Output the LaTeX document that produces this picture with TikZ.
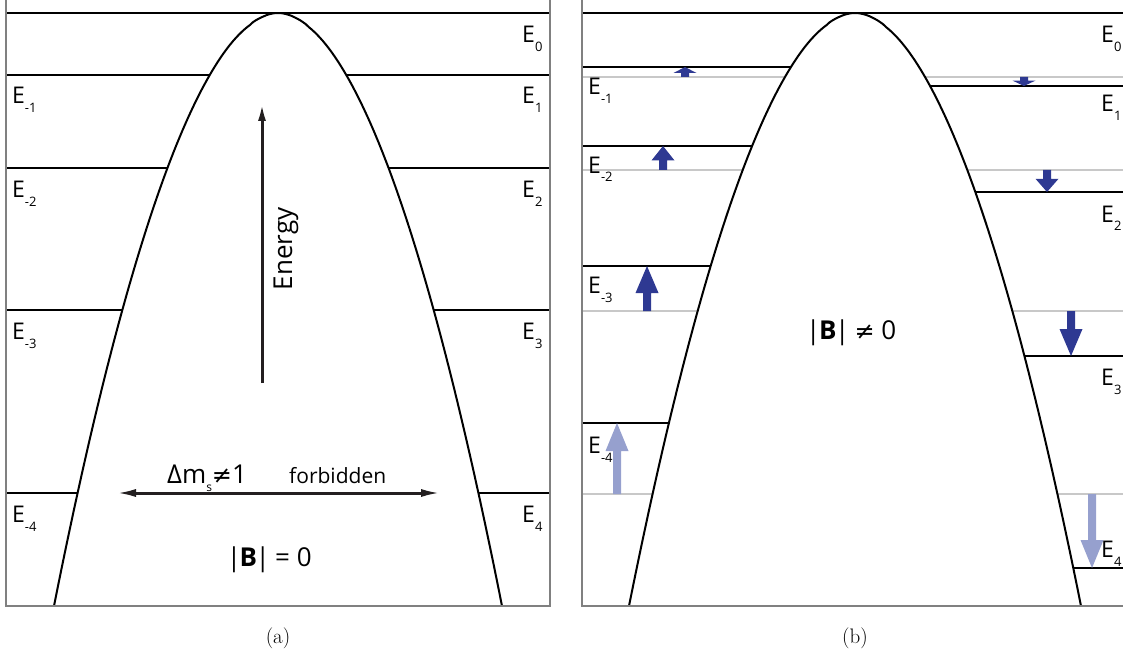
\documentclass[tikz,border=0pt]{standalone}
\usepackage{fontspec}
\newfontfamily\osans{Open Sans}
\newfontfamily\djv{DejaVu Sans}
\newfontfamily\lmcap{Latin Modern Roman}
\usetikzlibrary{arrows.meta}
\definecolor{arrdark}{RGB}{46,57,146}
\definecolor{arrlight}{RGB}{150,160,206}
\definecolor{framegray}{RGB}{128,128,128}
\definecolor{oldlevel}{RGB}{200,200,200}
\definecolor{inkgray}{RGB}{35,31,32}
\newcommand\zsub[1]{\raisebox{-9pt}{\fontsize{13}{13}\selectfont #1}}
\newcommand\zbar{\kern-1.5pt|\kern-1.5pt}
\newcommand\zarrow[4]{%
  \pgfmathsetmacro\zs{(#2>#3)?1:-1}%
  \pgfmathsetmacro\zh{min(0.6*abs(#2-#3),28)}%
  \pgfmathsetmacro\zb{#3+\zs*\zh}%
  \fill[#4] (#1-4,#2) -- (#1-4,\zb) -- (#1-11.5,\zb) -- (#1,#3) -- (#1+11.5,\zb) -- (#1+4,\zb) -- (#1+4,#2) -- cycle;}
\begin{document}
\begin{tikzpicture}[x=1pt,y=-1pt,
  frameline/.style={draw=framegray, line width=2pt},
  level/.style={draw=black, line width=2pt},
  oldlev/.style={draw=oldlevel, line width=2pt},
  parab/.style={draw=black, line width=2pt, fill=white},
  elabel/.style={anchor=base west, inner sep=0pt, font=\osans\fontsize{23}{23}\selectfont},
  biglabel/.style={inner sep=0pt, font=\osans\fontsize{26}{26}\selectfont},
  midlabel/.style={inner sep=0pt, font=\osans\fontsize{21}{21}\selectfont},
  inkarrow/.style={draw=inkgray, line width=3pt},
  capstyle/.style={anchor=base, inner sep=0pt}]
\useasboundingbox (0,0) rectangle (1123,655);
% ---------- panel (a) ----------
\foreach \yy in {13,75,168,310,493} \draw[level] (6,\yy) -- (550,\yy);
\path[parab] plot[domain=-1:1, samples=161, smooth] ({278+224*\x},{13+593*pow(abs(\x),1.9)});
\draw[frameline] (6,0) -- (6,606) -- (550,606) -- (550,0);
% labels (a)
\node[elabel] (a0)  at (522,43)  {E\zsub{0}};
\node[elabel] (am1) at (12,104)  {E\zsub{-1}};
\node[elabel] (ap1) at (522,104) {E\zsub{1}};
\node[elabel] (am2) at (12,197)  {E\zsub{-2}};
\node[elabel] (ap2) at (522,197) {E\zsub{2}};
\node[elabel] (am3) at (12,339)  {E\zsub{-3}};
\node[elabel] (ap3) at (522,339) {E\zsub{3}};
\node[elabel] (am4) at (12,522)  {E\zsub{-4}};
\node[elabel] (ap4) at (522,522) {E\zsub{4}};
% arrows (a)
\coordinate (en0) at (262,383);
\coordinate (en1) at (262,103);
\draw[inkarrow, -{Latex[length=18pt,width=8pt]}] (en0) -- (en1);
\node[biglabel, rotate=90] (energy) at (286,249) {Energy};
\coordinate (hl) at (116,493);
\coordinate (hr) at (441,493);
\draw[inkarrow, {Latex[length=20pt,width=8pt]}-{Latex[length=20pt,width=8pt]}] (hl) -- (hr);
\node[anchor=base west, inner sep=0pt, font=\osans\fontsize{26}{26}\selectfont] (dm) at (167,483)
  {Δm\raisebox{-8pt}{\fontsize{12}{12}\selectfont s}{\djv\fontsize{24}{24}\selectfont ≠}1};
\node[anchor=base west, midlabel] (forb) at (289,483) {forbidden};
\node[anchor=base, biglabel] (b0) at (270,566) {\zbar\textbf{B}\zbar{} = 0};
\node[capstyle] (capa) at (278,643) {\lmcap\fontsize{21}{21}\selectfont (a)};
% ---------- panel (b) ----------
\draw[level] (582,13) -- (1123,13);
\foreach \yy in {77,170,311,494} \draw[oldlev] (582,\yy) -- (1123,\yy);
\foreach \yy in {67,146,266,423} \draw[level] (582,\yy) -- (855,\yy);
\foreach \yy in {86,192,356,568} \draw[level] (855,\yy) -- (1123,\yy);
\path[parab] plot[domain=-1:1, samples=161, smooth] ({855+226*\x},{13+593*pow(abs(\x),1.9)});
\draw[frameline] (582,0) -- (582,606) -- (1123,606);
% shift arrows
\zarrow{685}{77}{67}{arrdark}
\zarrow{663}{170}{146}{arrdark}
\zarrow{647}{311}{266}{arrdark}
\zarrow{617}{494}{423}{arrlight}
\zarrow{1024}{77}{86}{arrdark}
\zarrow{1047}{170}{192}{arrdark}
\zarrow{1071}{311}{356}{arrdark}
\zarrow{1092}{494}{568}{arrlight}
% labels (b)
\node[elabel] (b0l)  at (1101,43)  {E\zsub{0}};
\node[elabel] (bm1) at (588,95)   {E\zsub{-1}};
\node[elabel] (bp1) at (1101,112) {E\zsub{1}};
\node[elabel] (bm2) at (588,173)  {E\zsub{-2}};
\node[elabel] (bp2) at (1101,222) {E\zsub{2}};
\node[elabel] (bm3) at (588,293)  {E\zsub{-3}};
\node[elabel] (bp3) at (1101,385) {E\zsub{3}};
\node[elabel] (bm4) at (588,453)  {E\zsub{-4}};
\node[elabel] (bp4) at (1101,557) {E\zsub{4}};
\node[anchor=base, biglabel] (bne) at (852,339) {\zbar\textbf{B}\zbar{} {\djv\fontsize{24}{24}\selectfont ≠} 0};
\node[capstyle] (capb) at (855,643) {\lmcap\fontsize{21}{21}\selectfont (b)};
\end{tikzpicture}
\end{document}
